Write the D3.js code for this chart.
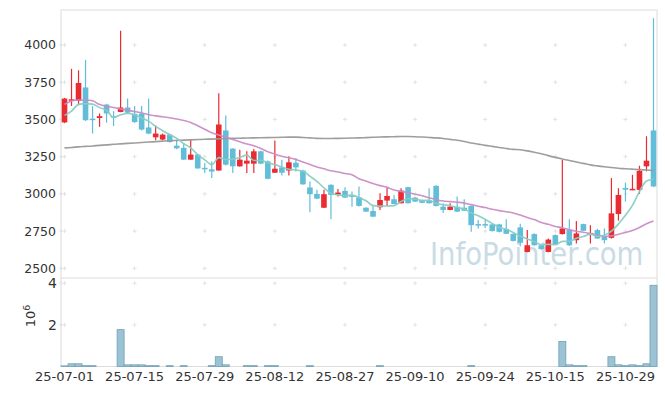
<!DOCTYPE html>
<html><head><meta charset="utf-8">
<script src="https://cdn.jsdelivr.net/npm/d3@7/dist/d3.min.js"></script>
<style>
html,body{margin:0;padding:0;background:#fff;}
svg{display:block;font-family:"DejaVu Sans",sans-serif;}
</style></head>
<body><svg id="chart" width="665" height="396"></svg>
<script>
const dates = ["25-07-01","25-07-02","25-07-03","25-07-04","25-07-07","25-07-08","25-07-09","25-07-10","25-07-11","25-07-14",
"25-07-15","25-07-16","25-07-17","25-07-18","25-07-21","25-07-22","25-07-23","25-07-24","25-07-25","25-07-28",
"25-07-29","25-07-30","25-07-31","25-08-01","25-08-04","25-08-05","25-08-06","25-08-07","25-08-08","25-08-11",
"25-08-12","25-08-13","25-08-14","25-08-18","25-08-19","25-08-20","25-08-21","25-08-22","25-08-25","25-08-26",
"25-08-27","25-08-28","25-08-29","25-09-01","25-09-02","25-09-03","25-09-04","25-09-05","25-09-08","25-09-09",
"25-09-10","25-09-11","25-09-12","25-09-15","25-09-16","25-09-17","25-09-18","25-09-19","25-09-22","25-09-23",
"25-09-24","25-09-25","25-09-26","25-09-29","25-09-30","25-10-01","25-10-02","25-10-10","25-10-13","25-10-14",
"25-10-15","25-10-16","25-10-17","25-10-20","25-10-21","25-10-22","25-10-23","25-10-24","25-10-27","25-10-28",
"25-10-29","25-10-30","25-10-31","25-11-03","25-11-04"];

const open = [3480,3625,3624,3715,3505,3510,3600,3522,3550,3580,3538,3540,3446,3380,3365,3398,3324,3309,3230,3264,
3175,3165,3157,3426,3304,3185,3203,3203,3286,3218,3142,3178,3157,3209,3157,3043,3000,2907,3061,2995,
3020,2990,2977,2907,2885,2910,2955,2964,2937,3045,2975,2957,2957,3054,2914,2892,2914,2907,2919,2797,
2797,2795,2795,2765,2730,2775,2610,2730,2655,2610,2723,2730,2757,2689,2797,2728,2757,2712,2705,2865,
3040,3028,3027,3185,3426];
const high = [3645,3840,3830,3900,3590,3540,3605,3556,4095,3640,3590,3590,3640,3460,3405,3405,3365,3342,3365,3268,
3207,3218,3676,3527,3306,3297,3286,3302,3290,3225,3358,3230,3252,3241,3162,3083,3027,3027,3065,3032,
3045,3016,3050,2910,2926,3005,3045,2993,3038,3048,2980,2962,3038,3058,2937,2937,2982,2964,2922,2824,
2824,2800,2800,2830,2735,2800,2757,2735,2660,2700,2727,3230,2830,2818,2800,2790,2765,2768,3106,3038,
3076,3128,3189,3387,4180];
const low = [3475,3590,3595,3490,3405,3450,3478,3455,3548,3540,3478,3425,3400,3360,3360,3345,3300,3228,3228,3168,
3140,3106,3155,3190,3140,3183,3140,3140,3200,3098,3140,3124,3124,3151,3062,2876,2965,2905,2830,2982,
2972,2914,2915,2878,2845,2892,2919,2930,2935,2935,2945,2937,2935,2915,2872,2890,2878,2885,2745,2768,
2770,2748,2740,2730,2680,2649,2608,2652,2625,2608,2657,2728,2650,2667,2750,2667,2698,2667,2700,2820,
2948,3025,3000,3151,3045];
const close = [3640,3635,3745,3495,3500,3522,3540,3512,3580,3545,3482,3432,3405,3405,3398,3348,3306,3230,3264,3171,
3168,3150,3466,3196,3185,3230,3223,3286,3203,3101,3169,3142,3212,3178,3064,2998,2968,2998,2993,3009,
2975,2984,2919,2881,2847,2959,2986,2932,3022,2937,2948,2940,2937,2919,2892,2914,2881,2887,2790,2792,
2792,2750,2745,2732,2684,2672,2655,2655,2630,2693,2660,2768,2655,2734,2752,2738,2700,2689,2869,2993,
3028,3034,3155,3223,3050];
// volume in millions of shares
const volume = [0.03,0.13,0.13,0.04,0.04,0.01,0.01,0.01,1.77,0.08,0.08,0.08,0.04,0.04,0.01,0.04,0.01,0.04,0.01,0.01,
0.01,0.04,0.47,0.08,0.01,0.01,0.04,0.04,0.01,0.04,0.04,0.01,0.01,0.01,0.01,0.04,0.01,0.01,0.01,0.01,
0.01,0.01,0.01,0.01,0.01,0.04,0.01,0.01,0.01,0.01,0.01,0.01,0.01,0.01,0.01,0.01,0.01,0.01,0.04,0.01,
0.01,0.01,0.01,0.01,0.01,0.01,0.01,0.01,0.01,0.01,0.01,1.20,0.08,0.04,0.04,0.01,0.01,0.01,0.47,0.08,
0.04,0.08,0.04,0.13,3.90];
// moving-average values before enough history is visible
const ma5Head = [3527,3556,3601,3606];
const ma20Head = [3601,3624,3631,3631,3625,3600,3588,3580,3570,3562,3553,3545,3532,3524,3518,3511,3503,3493,3480];
const maLong = [3309,3312,3316,3319,3322,3326,3329,3333,3336,3339,3342,3345,3348,3351,3354,3357,3359,3361,3363,3365,
3367,3368,3370,3372,3373,3374,3375,3376,3377,3378,3379,3380,3381,3381,3379,3376,3373,3372,3372,3373,
3374,3375,3376,3378,3380,3382,3383,3384,3385,3385,3384,3382,3379,3376,3372,3366,3360,3352,3342,3334,
3326,3319,3312,3305,3299,3296,3289,3280,3270,3257,3245,3234,3224,3214,3205,3195,3188,3182,3177,3172,
3169,3166,3163,3160,3157];
const priceTicks = [2500,2750,3000,3250,3500,3750,4000];
const volTicks = [2,4];
const xTickIdx = [0,10,20,30,40,50,60,70,80];

const N = dates.length;
const ma = (k, head) => close.map((c,i)=> i>=k-1 ? d3.mean(close.slice(i-k+1,i+1)) : head[i]);
const ma5 = ma(5, ma5Head), ma20 = ma(20, ma20Head);

const svg = d3.select("#chart");
const L = 61, R = 657, T = 10, MID = 278, B = 366.5;
const x = d3.scaleBand().domain(d3.range(N)).range([L, R]);
const cx = i => x(i) + x.bandwidth()/2;
const y = d3.scaleLinear().domain([2435, 4235]).range([MID, T]);
const yv = d3.scaleLinear().domain([0, 4.25]).range([B, MID]);

const grid = "#dcdcdc";
// frame
svg.append("rect").attr("x",L).attr("y",T).attr("width",R-L).attr("height",B-T)
  .attr("fill","none").attr("stroke",grid).attr("stroke-width",1);
svg.append("line").attr("x1",L).attr("x2",R).attr("y1",MID).attr("y2",MID).attr("stroke",grid);

// watermark
svg.append("text").attr("transform","translate(430,265) scale(1,1.18)").attr("font-size",27.5)
  .attr("fill","#c9dbe5").text("InfoPointer.com");

// cross grid marks
const crosses = [];
xTickIdx.forEach(i=>{ priceTicks.forEach(v=>crosses.push([cx(i), y(v)])); volTicks.forEach(v=>crosses.push([cx(i), yv(v)])); });
priceTicks.forEach(v=>crosses.push([L, y(v)])); volTicks.forEach(v=>crosses.push([L, yv(v)]));
const cg = svg.append("g").attr("stroke","#e2e2e2").attr("stroke-width",1);
crosses.forEach(([a,b])=>{
  cg.append("line").attr("x1",a-2).attr("x2",a+2).attr("y1",b).attr("y2",b);
  cg.append("line").attr("x1",a).attr("x2",a).attr("y1",b-2).attr("y2",b+2);
});

// axes
const ya = svg.append("g").attr("transform",`translate(${L-5},0)`)
  .call(d3.axisLeft(y).tickValues(priceTicks).tickSize(0).tickPadding(0).tickFormat(d3.format("d")));
const yva = svg.append("g").attr("transform",`translate(${L-4},0)`)
  .call(d3.axisLeft(yv).tickValues(volTicks).tickSize(0).tickPadding(0).tickFormat(d3.format("d")));
const xa = svg.append("g").attr("transform",`translate(0,${B+5})`)
  .call(d3.axisBottom(x).tickValues(xTickIdx).tickSize(0).tickPadding(0).tickFormat(i=>dates[i]));
[ya,yva,xa].forEach(g=>{ g.select(".domain").remove(); g.selectAll("text").attr("fill","#333").attr("font-family","DejaVu Sans, sans-serif"); });
ya.selectAll("text").attr("font-size",12.5);
yva.selectAll("text").attr("font-size",14);
xa.selectAll("text").attr("font-size",13);

// 10^6 label
const ex = svg.append("text").attr("transform","translate(35,316) rotate(-90)")
  .attr("text-anchor","middle").attr("font-size",13).attr("fill","#333");
ex.append("tspan").text("10");
ex.append("tspan").attr("dy",-5).attr("font-size",9.5).text("6");

// volume bars
svg.append("g").selectAll("rect").data(d3.range(N).filter(i=>volume[i]>=0.02)).join("rect")
  .attr("x",i=>x(i)).attr("width",x.bandwidth())
  .attr("y",i=>yv(volume[i])).attr("height",i=>B-yv(volume[i]))
  .attr("fill","#9cc3d3").attr("stroke","#6fa0b6").attr("stroke-width",0.8);

// candles
const up = "#ea2b32", dn = "#62bdd8";
const cd = svg.append("g").selectAll("g").data(d3.range(N)).join("g");
cd.append("line").attr("x1",cx).attr("x2",cx)
  .attr("y1",i=>y(high[i])).attr("y2",i=>y(low[i]))
  .attr("stroke",i=>close[i]>=open[i]?up:dn).attr("stroke-width",1.2);
cd.append("rect").attr("x",i=>cx(i)-2.8).attr("width",5.6)
  .attr("y",i=>y(Math.max(open[i],close[i])))
  .attr("height",i=>Math.max(1.5, Math.abs(y(open[i])-y(close[i]))))
  .attr("fill",i=>close[i]>=open[i]?up:dn);

// moving averages
const line = arr => d3.line().x((d,i)=>cx(i)).y(d=>y(d)).curve(d3.curveMonotoneX)(arr);
svg.append("path").attr("d",line(maLong)).attr("fill","none").attr("stroke","#999").attr("stroke-width",1.6).attr("opacity",0.95);
svg.append("path").attr("d",line(ma20)).attr("fill","none").attr("stroke","#c98cc6").attr("stroke-width",1.6).attr("opacity",0.95);
svg.append("path").attr("d",line(ma5)).attr("fill","none").attr("stroke","#86cdc3").attr("stroke-width",1.6).attr("opacity",0.95);
</script></body></html>
